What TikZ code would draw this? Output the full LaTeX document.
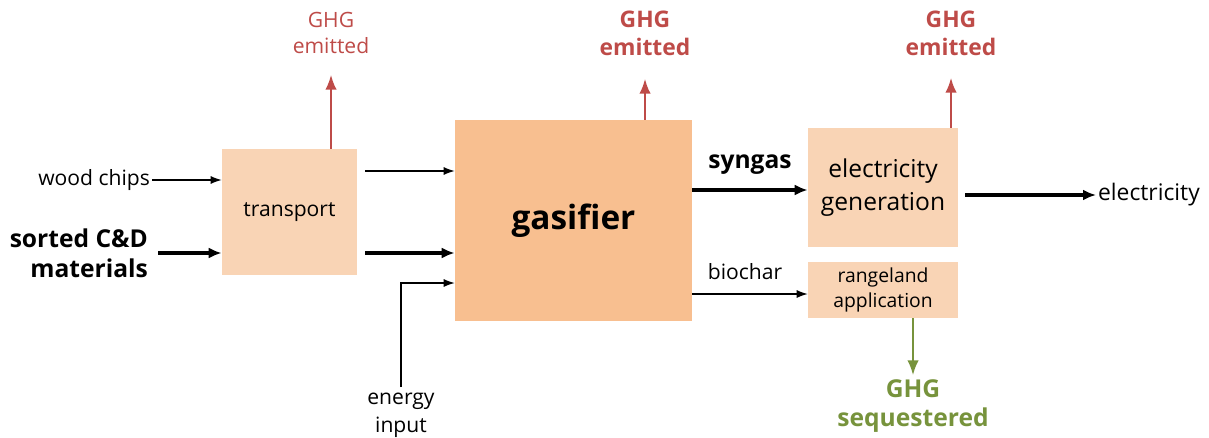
\documentclass[tikz,border=0pt]{standalone}
\usepackage{fontspec}
\setmainfont{Open Sans}
\usepackage{tikz}
\usetikzlibrary{positioning, arrows.meta, calc}

\definecolor{peach}{HTML}{F9D4B5}
\definecolor{peachdark}{HTML}{F8BF90}
\definecolor{ghgred}{HTML}{BE4B48}
\definecolor{ghggreen}{HTML}{77933C}

\begin{document}
\begin{tikzpicture}[
      x=0.02cm, y=0.02cm,
      font=\fontsize{12}{15}\selectfont,
      box/.style={fill=peach, minimum width=2.7cm, minimum height=2.52cm, align=center, inner sep=2pt},
      lbl/.style={align=center, inner sep=1pt},
      thinarr/.style={-{Latex[length=2.2mm, width=1.6mm]}, line width=0.6pt},
      thickarr/.style={-{Latex[length=2.6mm, width=2.2mm]}, line width=1.8pt},
      redarr/.style={-{Latex[length=3mm, width=2.3mm]}, line width=1.4pt, ghgred},
      greenarr/.style={-{Latex[length=3mm, width=2.3mm]}, line width=1.4pt, ghggreen}
    ]
    \useasboundingbox (0,0) rectangle (1209,437);
    %% process boxes
    \node[box] (transport) at (289.5,225) {transport};
    \node[box, fill=peachdark, minimum width=4.74cm, minimum height=4.02cm] (gasifier) at (573.5,216.5)
      {\fontsize{19}{23}\selectfont\bfseries gasifier};
    \node[box, minimum width=3.0cm, minimum height=2.38cm, font=\fontsize{14}{18}\selectfont] (elecgen) at (883,249.5)
      {electricity\\[1pt]generation};
    \node[box, minimum width=3.0cm, minimum height=1.12cm, font=\fontsize{11}{14}\selectfont] (rangeland) at (883,147)
      {rangeland\\application};
    %% inputs
    \node[lbl, anchor=east] (woodchips) at (152,257) {wood chips};
    \node[lbl, anchor=east, font=\fontsize{14}{17}\selectfont\bfseries, align=right] (cdmat) at (150,184)
      {sorted C\&D\\materials};
    \node[lbl] (energy) at (401,22) {energy\\[1pt]input};
    \coordinate (bend) at (401,154);
    \draw[thinarr] (woodchips.east) -- (transport.west |- woodchips.east);
    \draw[thickarr] (cdmat.east) ++(8,0) -- (transport.west |- cdmat.east);
    \draw[thinarr] ([shift={(8,41)}]transport.east) -- (gasifier.west |- 0,266);
    \draw[thickarr] ([shift={(8,-41)}]transport.east) -- (gasifier.west |- 0,184);
    \draw[thinarr] ([yshift=2]energy.north) -- (bend) -- (gasifier.west |- bend);
    %% outputs
    \node[lbl, font=\fontsize{14}{17}\selectfont\bfseries] (syngas) at (750,272) {syngas};
    \node[lbl] (biochar) at (745,165) {biochar};
    \node[lbl, anchor=west, font=\fontsize{13}{16}\selectfont] (elec) at (1096,242) {electricity};
    \draw[thickarr] (gasifier.east |- 0,247) -- (elecgen.west |- 0,247);
    \draw[thinarr] (gasifier.east |- 0,143) -- (rangeland.west |- 0,143);
    \draw[thickarr] ([xshift=4]elecgen.east |- elec.west) -- (elec.west);
    %% GHG flows
    \node[lbl, text=ghgred] (ghgA) at (331,404) {GHG\\emitted};
    \node[lbl, text=ghgred, font=\fontsize{13}{16}\selectfont\bfseries] (ghgB) at (645,404) {GHG\\emitted};
    \node[lbl, text=ghgred, font=\fontsize{13}{16}\selectfont\bfseries] (ghgC) at (951,404) {GHG\\emitted};
    \node[lbl, text=ghggreen, font=\fontsize{14}{17}\selectfont\bfseries] (ghgD) at (913,31) {GHG\\sequestered};
    \draw[redarr] (transport.north -| ghgA) -- ++(0,74);
    \draw[redarr] (gasifier.north -| ghgB) -- ++(0,41);
    \draw[redarr] (elecgen.north -| ghgC) -- ++(0,50);
    \draw[greenarr] (rangeland.south -| ghgD) -- ++(0,-57);
  \end{tikzpicture}
\end{document}
